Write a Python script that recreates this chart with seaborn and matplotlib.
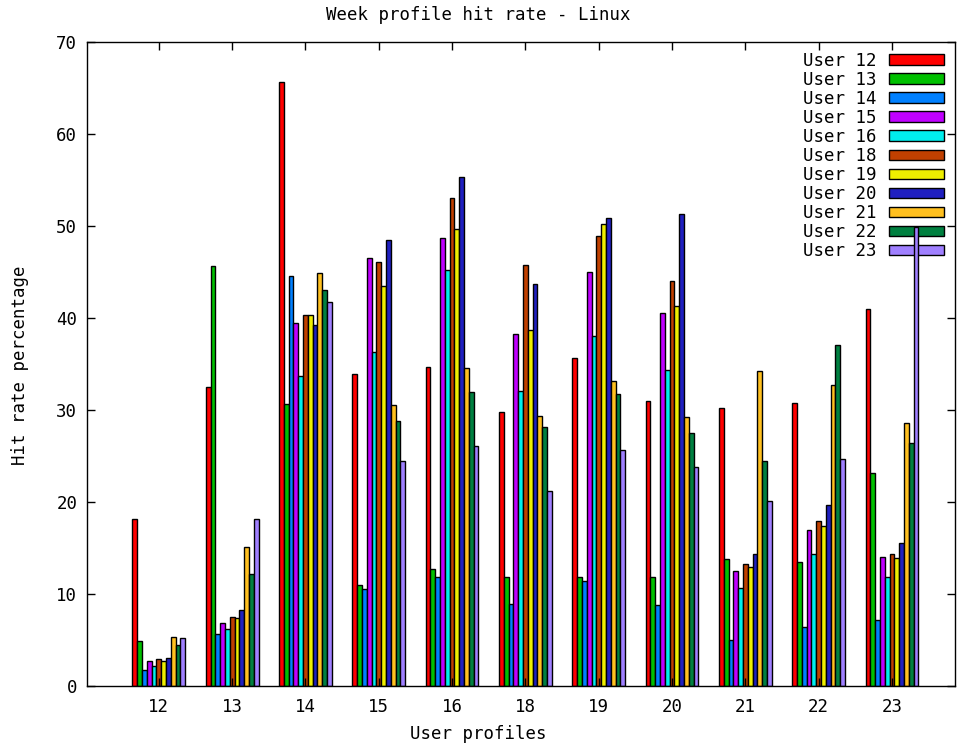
import pandas as pd
import matplotlib
matplotlib.use('Agg')
import matplotlib.pyplot as plt
import seaborn as sns

# Profiles on the x axis and one series per user
profiles = ['12', '13', '14', '15', '16', '18', '19', '20', '21', '22', '23']
users = ['User 12', 'User 13', 'User 14', 'User 15', 'User 16', 'User 18',
         'User 19', 'User 20', 'User 21', 'User 22', 'User 23']

u12 = [18.2, 32.5, 65.7, 33.9, 34.7, 29.8, 35.7, 31.0, 30.2, 30.8, 41.0]
u13 = [4.9, 45.7, 30.7, 11.0, 12.7, 11.9, 11.8, 11.8, 13.8, 13.5, 23.1]
u14 = [1.7, 5.6, 44.6, 10.5, 11.8, 8.9, 11.4, 8.8, 5.0, 6.4, 7.2]
u15 = [2.7, 6.8, 39.5, 46.5, 48.7, 38.3, 45.0, 40.5, 12.5, 17.0, 14.0]
u16 = [2.2, 6.2, 33.7, 36.3, 45.2, 32.1, 38.0, 34.3, 10.6, 14.3, 11.8]
u18 = [2.9, 7.5, 40.3, 46.1, 53.0, 45.8, 48.9, 44.0, 13.3, 17.9, 14.3]
u19 = [2.7, 7.4, 40.3, 43.5, 49.7, 38.7, 50.2, 41.3, 12.9, 17.4, 13.9]
u20 = [3.0, 8.3, 39.2, 48.5, 55.3, 43.7, 50.9, 51.3, 14.3, 19.7, 15.5]
u21 = [5.3, 15.1, 44.9, 30.5, 34.6, 29.3, 33.2, 29.2, 34.2, 32.7, 28.6]
u22 = [4.5, 12.2, 43.0, 28.8, 32.0, 28.1, 31.7, 27.5, 24.5, 37.1, 26.4]
u23 = [5.2, 18.1, 41.7, 24.5, 26.1, 21.2, 25.7, 23.8, 20.1, 24.7, 49.9]

series = [u12, u13, u14, u15, u16, u18, u19, u20, u21, u22, u23]

colors = ['#ff0000', '#00c000', '#0080ff', '#c000ff', '#00eeee', '#c04000',
          '#eeee00', '#2020c0', '#ffc020', '#008040', '#a080ff']

# Long format table for seaborn
rows = []
for user, vals in zip(users, series):
    for p, v in zip(profiles, vals):
        rows.append({'profile': p, 'user': user, 'rate': v})
df = pd.DataFrame(rows)

plt.rcParams['font.family'] = ['DejaVu Sans Mono']
plt.rcParams['font.size'] = 12.5

fig = plt.figure(figsize=(9.57, 7.47), dpi=100)
ax = fig.add_axes([87/957, 61/747, (955-87)/957, (686-42)/747])

sns.barplot(data=df, x='profile', y='rate', hue='user', order=profiles,
            hue_order=users, palette=colors, width=0.72, edgecolor='black',
            linewidth=1, saturation=1, ax=ax)

ax.set_xlim(-0.98, 10.86)
ax.set_ylim(0, 70)
ax.set_yticks(range(0, 71, 10))
ax.tick_params(direction='in', top=True, right=True, length=6, width=1,
               color='black')
ax.tick_params(axis='x', pad=9)
ax.tick_params(axis='y', pad=7)
for s in ax.spines.values():
    s.set_color('black')
    s.set_linewidth(1)

ax.set_xlabel('')
ax.set_ylabel('')
fig.text(0.5, 1 - 15/747, 'Week profile hit rate - Linux', ha='center', va='center')
fig.text(0.5, 1 - 734/747, 'User profiles', ha='center', va='center')
fig.text(20/957, 1 - 365/747, 'Hit rate percentage', ha='center', va='center',
         rotation=90)

leg = ax.legend(loc='upper right', bbox_to_anchor=(953/957, 1 - 43/747),
                bbox_transform=fig.transFigure, frameon=False, markerfirst=False,
                fontsize=12.5, labelspacing=0.06, handlelength=3.2,
                handleheight=0.55, handletextpad=0.7, borderpad=0)
leg.set_zorder(0.5)

plt.savefig('out.png', dpi=100)
